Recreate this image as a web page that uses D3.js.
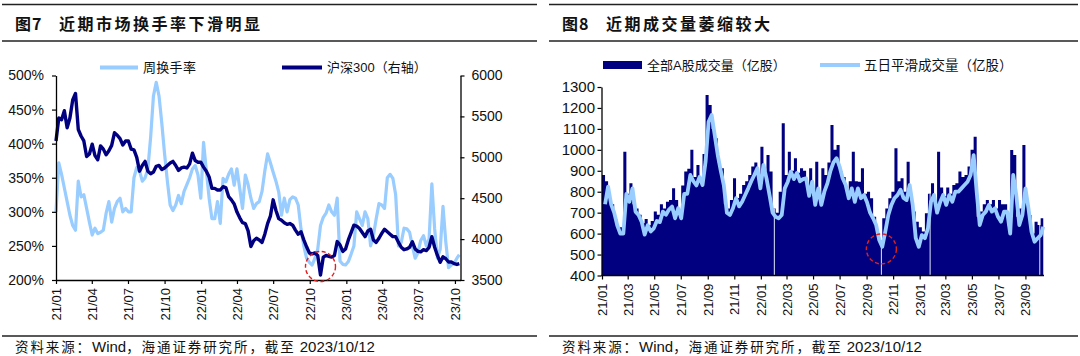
<!DOCTYPE html>
<html><head><meta charset="utf-8">
<script src="https://cdn.jsdelivr.net/npm/d3@7/dist/d3.min.js"></script>
<style>
html,body{margin:0;padding:0;background:#fff;}
svg{display:block;}
text{font-family:"Liberation Sans",Arial,"Noto Sans CJK SC",sans-serif;fill:#111;}
</style></head><body>
<svg id="chart" width="1080" height="356"></svg>
<script>
// ---------- DATA ----------
// weekly (Friday) dates
const weekDays2021=["01-01","01-08","01-15","01-22","01-29","02-05","02-12","02-19","02-26","03-05","03-12","03-19","03-26","04-02","04-09","04-16","04-23","04-30","05-07","05-14","05-21","05-28","06-04","06-11","06-18","06-25","07-02","07-09","07-16","07-23","07-30","08-06","08-13","08-20","08-27","09-03","09-10","09-17","09-24","10-01","10-08","10-15","10-22","10-29","11-05","11-12","11-19","11-26","12-03","12-10","12-17","12-24","12-31"];
const weekDays2022=["01-07","01-14","01-21","01-28","02-04","02-11","02-18","02-25","03-04","03-11","03-18","03-25","04-01","04-08","04-15","04-22","04-29","05-06","05-13","05-20","05-27","06-03","06-10","06-17","06-24","07-01","07-08","07-15","07-22","07-29","08-05","08-12","08-19","08-26","09-02","09-09","09-16","09-23","09-30","10-07","10-14","10-21","10-28","11-04","11-11","11-18","11-25","12-02","12-09","12-16","12-23","12-30"];
const weekDays2023=["01-06","01-13","01-20","01-27","02-03","02-10","02-17","02-24","03-03","03-10","03-17","03-24","03-31","04-07","04-14","04-21","04-28","05-05","05-12","05-19","05-26","06-02","06-09","06-16","06-23","06-30","07-07","07-14","07-21","07-28","08-04","08-11","08-18","08-25","09-01","09-08","09-15","09-22","09-29","10-06","10-12"];

// Fig 7: weekly turnover (%) and CSI 300 (right axis)
const turnover=[
300,372,355,335,315,295,280,273,345,322,
325,305,285,266,276,268,270,273,298,315,
285,305,315,320,300,305,300,300,350,365,
360,345,350,363,410,470,490,470,430,385,
345,310,302,310,324,312,330,340,350,363,
368,354,320,402,360,320,290,290,315,283,
349,344,355,363,339,363,334,305,354,340,
320,305,312,315,330,360,385,372,358,345,
329,295,320,300,318,322,320,310,275,250,
232,226,222,232,245,280,292,298,310,300,
295,320,228,223,222,227,238,250,300,290,
280,300,290,250,265,290,312,310,305,350,
355,349,325,250,255,276,275,270,250,232,
240,258,265,250,260,341,275,232,245,308,
256,218,222,225,232,237];
const hs300=[
5200,5480,5460,5570,5360,5480,5700,5780,5340,5260,
5200,5010,5040,5160,5020,4970,5140,5100,5030,5080,
5146,5300,5270,5228,5150,5200,5200,5100,5090,5000,
4830,4900,4950,4830,4800,4820,4890,4900,4850,4870,
4900,4930,4950,4900,4840,4870,4880,4870,4920,5050,
4960,4940,4940,4880,4830,4760,4620,4620,4600,4600,
4640,4630,4520,4480,4430,4330,4260,4200,4190,4100,
3910,3980,4010,3990,3960,4060,4190,4280,4480,4350,
4250,4230,4200,4180,4190,4170,4110,4060,4090,3990,
3906,3830,3820,3830,3800,3560,3780,3800,3790,3780,
3800,3970,3930,3850,3880,3990,4080,4170,4160,4130,
4080,4030,4100,4120,3990,3960,4010,4070,4120,4090,
4060,4030,4030,3960,3900,3870,3880,3900,3967,3880,
3850,3845,3870,3860,3900,4030,3900,3800,3716,3784,
3760,3720,3720,3700,3690,3700];

// Fig 8: A-share volume (100m shares), weekly peak and 5-day smoothed
const volumeBars=[null,
880,850,770,740,670,630,630,991,790,840,
740,720,690,650,670,640,660,705,690,740,
720,752,760,816,760,710,830,896,910,1000,
870,928,870,980,1262,1214,1100,1055,940,912,
740,720,760,864,770,790,832,850,880,920,
940,860,1015,900,975,896,720,700,800,1127,
880,991,900,960,890,912,900,820,912,780,
943,780,912,880,940,1119,1000,1023,896,870,
810,850,991,850,848,912,790,800,769,680,
600,570,673,720,769,800,1007,850,864,800,
943,780,705,657,630,610,697,790,840,740,
991,820,780,820,790,832,840,896,870,880,
920,1000,1063,680,705,740,760,740,760,720,
760,740,740,640,999,975,680,720,1023,760,
689,600,657,641,673];
const volumeSmooth=[null,
740,824,740,700,640,600,600,790,752,816,
705,689,657,595,640,610,625,660,655,705,
690,715,729,673,721,673,790,790,880,850,
830,870,832,943,1134,1166,1071,975,900,830,
700,689,721,769,730,752,784,816,850,880,
912,816,928,864,784,700,680,673,689,816,
848,896,860,890,850,860,864,780,848,737,
816,737,800,840,900,940,960,920,864,832,
769,816,752,816,769,784,750,700,673,641,
570,537,609,689,737,769,784,810,770,760,
832,737,578,537,593,578,625,752,784,700,
750,784,737,784,752,800,800,816,832,848,
880,975,800,641,689,705,737,705,721,680,
657,705,705,600,880,784,641,689,816,721,
609,561,578,593,633];
const gapDates=["2022-02-01","2022-10-05","2023-01-25","2023-10-04"];

// ticks
const pctTicks=[200,250,300,350,400,450,500];
const idxTicks=[3500,4000,4500,5000,5500,6000];
const volTicks=[400,500,600,700,800,900,1000,1100,1200,1300];
const xTicksL=["2021-01-01","2021-04-01","2021-07-01","2021-10-01","2022-01-01","2022-04-01","2022-07-01","2022-10-01","2023-01-01","2023-04-01","2023-07-01","2023-10-01"];
const xTicksR=["2021-01-01","2021-03-01","2021-05-01","2021-07-01","2021-09-01","2021-11-01","2022-01-01","2022-03-01","2022-05-01","2022-07-01","2022-09-01","2022-11-01","2023-01-01","2023-03-01","2023-05-01","2023-07-01","2023-09-01"];
// annotations
const markL={date:"2022-10-28",value:3665};
const markR={date:"2022-10-05",value:527};

// ---------- DRAW ----------
const svg=d3.select("#chart");
const parse=d3.timeParse("%Y-%m-%d");
const weeks=[].concat(
  weekDays2021.map(d=>"2021-"+d),
  weekDays2022.map(d=>"2022-"+d),
  weekDays2023.map(d=>"2023-"+d)).map(parse);
const fmt=d3.timeFormat("%y/%m");
const LIGHT="#99CCFF", NAVY="#000080";
const CJK='"Noto Sans CJK SC","Liberation Sans",sans-serif';

function frame(x0,x1,num,title,titleX){
  [4.5,41,336].forEach(y=>svg.append("line").attr("x1",x0).attr("x2",x1).attr("y1",y).attr("y2",y)
    .attr("stroke","#222").attr("stroke-width",1.6));
  svg.append("text").attr("x",x0+13).attr("y",24).attr("dy","0.36em")
    .attr("font-size",16).attr("font-weight","bold").style("font-family",CJK).attr("letter-spacing",1)
    .text(num);
  svg.append("text").attr("x",titleX).attr("y",24).attr("dy","0.36em")
    .attr("font-size",16).attr("font-weight","bold").style("font-family",CJK).attr("letter-spacing",2.5)
    .text(title);
  const f=svg.append("text").attr("x",x0+13).attr("y",347.5).attr("dy","0.36em").attr("font-size",13.5);
  [["资料来源：",1],["Wind",0],["，海通证券研究所，截至",1],[" 2023/10/12",0]].forEach(([t,c])=>{
    const s=f.append("tspan").text(t);
    if(c) s.style("font-family",CJK).attr("letter-spacing",1.9);
    else s.attr("font-size",15);
  });
}
frame(2,537,"图7","近期市场换手率下滑明显",59);
frame(549,1078,"图8","近期成交量萎缩较大",606);

function styleAxis(g,fs){
  g.select(".domain").attr("stroke","#000").attr("stroke-width",1.3);
  g.selectAll(".tick line").attr("stroke","#000").attr("stroke-width",1.2);
  g.selectAll(".tick text").attr("font-size",fs).attr("fill","#111")
    .style("font-family",'"Liberation Sans",Arial,sans-serif');
}

// ===== Left chart =====
const xL=d3.scaleTime().domain([parse("2021-01-01"),parse("2023-10-15")]).range([56,460.5]);
const yL=d3.scaleLinear().domain([200,500]).range([280,75.5]);
const yR=d3.scaleLinear().domain([3500,6000]).range([280,75.5]);

const gL=svg.append("g");
gL.append("path").datum(turnover)
  .attr("d",d3.line().x((d,i)=>xL(weeks[i])).y(d=>yL(d)))
  .attr("fill","none").attr("stroke",LIGHT).attr("stroke-width",3.2).attr("stroke-linejoin","round");
gL.append("path").datum(hs300)
  .attr("d",d3.line().x((d,i)=>xL(weeks[i])).y(d=>yR(d)))
  .attr("fill","none").attr("stroke",NAVY).attr("stroke-width",3.4).attr("stroke-linejoin","round");

const axL=svg.append("g").attr("transform","translate(56,0)")
  .call(d3.axisLeft(yL).tickValues(pctTicks).tickFormat(d=>d+"%").tickSize(4).tickSizeOuter(0).tickPadding(8));
styleAxis(axL,14);
const axR=svg.append("g").attr("transform","translate(460.5,0)")
  .call(d3.axisRight(yR).tickValues(idxTicks).tickFormat(d3.format("d")).tickSize(4).tickSizeOuter(0).tickPadding(7));
styleAxis(axR,14);
const axB=svg.append("g").attr("transform","translate(0,280)")
  .call(d3.axisBottom(xL).tickValues(xTicksL.map(parse)).tickFormat(fmt).tickSize(4).tickSizeOuter(0));
styleAxis(axB,13);
axB.selectAll(".tick text").attr("transform","rotate(-90)").attr("x",-8).attr("y",0)
  .attr("dy","0.35em").attr("text-anchor","end");

svg.append("circle").attr("cx",xL(parse(markL.date))).attr("cy",yR(markL.value)).attr("r",15)
  .attr("fill","none").attr("stroke","#E02020").attr("stroke-width",1.4).attr("stroke-dasharray","4,2.5");

// legend left
svg.append("line").attr("x1",100).attr("x2",138).attr("y1",67.5).attr("y2",67.5).attr("stroke",LIGHT).attr("stroke-width",4);
svg.append("text").attr("x",143).attr("y",67.5).attr("dy","0.36em").attr("font-size",13).style("font-family",CJK).attr("letter-spacing",0.3).text("周换手率");
svg.append("line").attr("x1",282).attr("x2",322).attr("y1",67.5).attr("y2",67.5).attr("stroke",NAVY).attr("stroke-width",4);
const lg2=svg.append("text").attr("x",327).attr("y",67.5).attr("dy","0.36em").attr("font-size",13);
lg2.append("tspan").style("font-family",CJK).text("沪深");
lg2.append("tspan").text("300");
lg2.append("tspan").style("font-family",CJK).text("（右轴）");

// ===== Right chart =====
const xV=d3.scaleTime().domain([parse("2021-01-01"),parse("2023-10-13")]).range([602,1043.7]);
const yV=d3.scaleLinear().domain([400,1300]).range([275.5,87]);

const barIdx=d3.range(1,weeks.length);
// each weekly bar spans previous Friday -> this Friday; drawn as one stepped area (no seams)
const barVerts=barIdx.flatMap(k=>[{d:weeks[k-1],v:volumeBars[k]},{d:weeks[k],v:volumeBars[k]}]);
svg.append("path").datum(barVerts)
  .attr("d",d3.area().x(p=>xV(p.d)).y0(yV(400)).y1(p=>yV(p.v)))
  .attr("fill",NAVY);

svg.append("g").selectAll("line").data(gapDates.map(parse)).join("line")
  .attr("x1",d=>xV(d)).attr("x2",d=>xV(d))
  .attr("y1",yV(400)-0.5)
  .attr("y2",d=>{const k=weeks.findIndex(w=>w>=d);return yV(volumeBars[k]);})
  .attr("stroke","#dfe9f7").attr("stroke-width",1);

svg.append("path").datum(barIdx)
  .attr("d",d3.line().x(k=>xV(weeks[k])).y(k=>yV(volumeSmooth[k])))
  .attr("fill","none").attr("stroke",LIGHT).attr("stroke-width",3.8).attr("stroke-linejoin","round");

const axV=svg.append("g").attr("transform","translate(601.5,0)")
  .call(d3.axisLeft(yV).tickValues(volTicks).tickFormat(d3.format("d")).tickSize(4).tickSizeOuter(0).tickPadding(2.5));
styleAxis(axV,15);
const axVB=svg.append("g").attr("transform","translate(0,275.5)")
  .call(d3.axisBottom(xV).tickValues(xTicksR.map(parse)).tickFormat(fmt).tickSize(4).tickSizeOuter(0));
styleAxis(axVB,13);
axVB.select(".domain").attr("d","M601.5,0H1044");
axVB.selectAll(".tick text").attr("transform","rotate(-90)").attr("x",-8).attr("y",0)
  .attr("dy","0.35em").attr("text-anchor","end");

svg.append("circle").attr("cx",xV(parse(markR.date))).attr("cy",yV(markR.value)).attr("r",15)
  .attr("fill","none").attr("stroke","#E02020").attr("stroke-width",1.4).attr("stroke-dasharray","4,2.5");

// legend right
svg.append("rect").attr("x",603).attr("y",61).attr("width",39).attr("height",8).attr("fill",NAVY);
const lg3=svg.append("text").attr("x",647).attr("y",65).attr("dy","0.36em").attr("font-size",13);
lg3.append("tspan").style("font-family",CJK).text("全部");
lg3.append("tspan").text("A");
lg3.append("tspan").style("font-family",CJK).text("股成交量（亿股）");
svg.append("line").attr("x1",820).attr("x2",860).attr("y1",65).attr("y2",65).attr("stroke",LIGHT).attr("stroke-width",4);
svg.append("text").attr("x",864).attr("y",65).attr("dy","0.36em").attr("font-size",13.5).style("font-family",CJK).text("五日平滑成交量（亿股）");
</script>
</body></html>
